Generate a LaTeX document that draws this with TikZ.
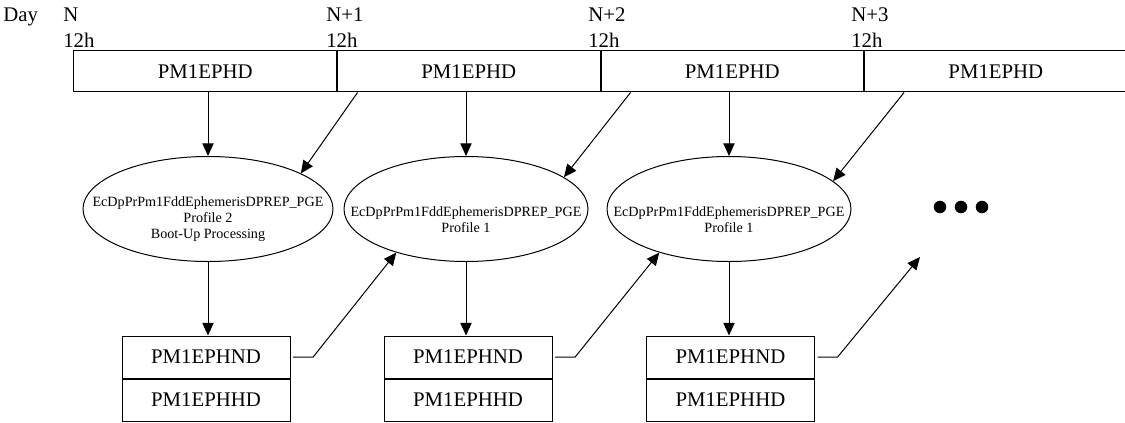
\documentclass[tikz,border=0pt]{standalone}
\usepackage{fontspec}
\setmainfont{Liberation Serif}
\usetikzlibrary{positioning,arrows.meta,shapes.geometric}

\tikzset{
  ephcell/.style={draw, line width=0.75pt, inner sep=0pt, minimum width=196.9pt, minimum height=31.1pt, font=\fontsize{15.6}{18}\selectfont},
  outcell/.style={draw, line width=0.75pt, inner sep=0pt, minimum width=126pt, minimum height=31.5pt, font=\fontsize{15.6}{18}\selectfont},
  pge/.style={draw, ellipse, line width=0.75pt, inner sep=0pt, minimum height=78.75pt},
  pgetext/.style={align=center, inner sep=0pt, font=\fontsize{10.6}{12}\selectfont},
  daylabel/.style={anchor=base west, inner sep=0pt, font=\fontsize{15.6}{18}\selectfont},
  arr/.style={line width=0.75pt, -{Triangle[length=9.5pt,width=8.5pt]}},
}

\begin{document}
\begin{tikzpicture}[x=0.75pt, y=-0.75pt]
    \useasboundingbox (0,0) rectangle (1125,422);
    % Time line
    \node[ephcell] (eph1) at (205.25,71.25) {PM1EPHD};
    \node[ephcell, right=0pt of eph1] (eph2) {PM1EPHD};
    \node[ephcell, right=0pt of eph2] (eph3) {PM1EPHD};
    \node[ephcell, right=0pt of eph3] (eph4) {PM1EPHD};
    % Day labels
    \node[daylabel] (day) at (3,21) {Day};
    \node[daylabel] (n0) at (63,21) {N};
    \node[daylabel] (h0) at (63,47) {12h};
    \node[daylabel] (n1) at (326,21) {N+1};
    \node[daylabel] (h1) at (326,47) {12h};
    \node[daylabel] (n2) at (588,21) {N+2};
    \node[daylabel] (h2) at (588,47) {12h};
    \node[daylabel] (n3) at (851,21) {N+3};
    \node[daylabel] (h3) at (851,47) {12h};
    % PGE runs
    \node[pge, minimum width=187.5pt] (pge1) at (208,209) {};
    \node[pge, minimum width=183pt] (pge2) at (466,209) {};
    \node[pge, minimum width=183pt] (pge3) at (729,209) {};
    \node[pgetext] (txt1) at (208,219) {EcDpPrPm1FddEphemerisDPREP\_PGE\\Profile 2\\Boot-Up Processing};
    \node[pgetext] (txt2) at (466,220) {EcDpPrPm1FddEphemerisDPREP\_PGE\\Profile 1};
    \node[pgetext] (txt3) at (729,220) {EcDpPrPm1FddEphemerisDPREP\_PGE\\Profile 1};
    % Outputs
    \node[outcell] (nd1) at (206,357) {PM1EPHND};
    \node[outcell, below=0pt of nd1] (hd1) {PM1EPHHD};
    \node[outcell] (nd2) at (468,357) {PM1EPHND};
    \node[outcell, below=0pt of nd2] (hd2) {PM1EPHHD};
    \node[outcell] (nd3) at (730.4,357) {PM1EPHND};
    \node[outcell, below=0pt of nd3] (hd3) {PM1EPHHD};
    % More runs
    \node[inner sep=0pt, minimum width=55pt, minimum height=10pt] (more) at (961,207) {};
    \foreach \dx in {-21,0,21}
        \fill ([xshift=\dx*0.75pt]more.center) circle (4.7pt);
    \coordinate (moreIn) at (920,257);
    % Inputs
    \draw[arr] (eph1.south -| pge1) -- (pge1.north);
    \draw[arr] (eph2.south -| pge2) -- (pge2.north);
    \draw[arr] (eph3.south -| pge3) -- (pge3.north);
    \draw[arr] ([xshift=15.4pt]eph2.south west) -- (pge1.21);
    \draw[arr] ([xshift=22.5pt]eph3.south west) -- (pge2.18);
    \draw[arr] ([xshift=30pt]eph4.south west) -- (pge3.15);
    % Products
    \draw[arr] (pge1.south) -- (pge1.south |- nd1.north);
    \draw[arr] (pge2.south) -- (pge2.south |- nd2.north);
    \draw[arr] (pge3.south) -- (pge3.south |- nd3.north);
    \draw[arr] ([xshift=2pt]nd1.east) -- ++(15pt,0) -- (pge2.212);
    \draw[arr] ([xshift=2pt]nd2.east) -- ++(15pt,0) -- (pge3.212);
    \draw[arr] ([xshift=2pt]nd3.east) -- ++(15pt,0) -- (moreIn);
\end{tikzpicture}
\end{document}
